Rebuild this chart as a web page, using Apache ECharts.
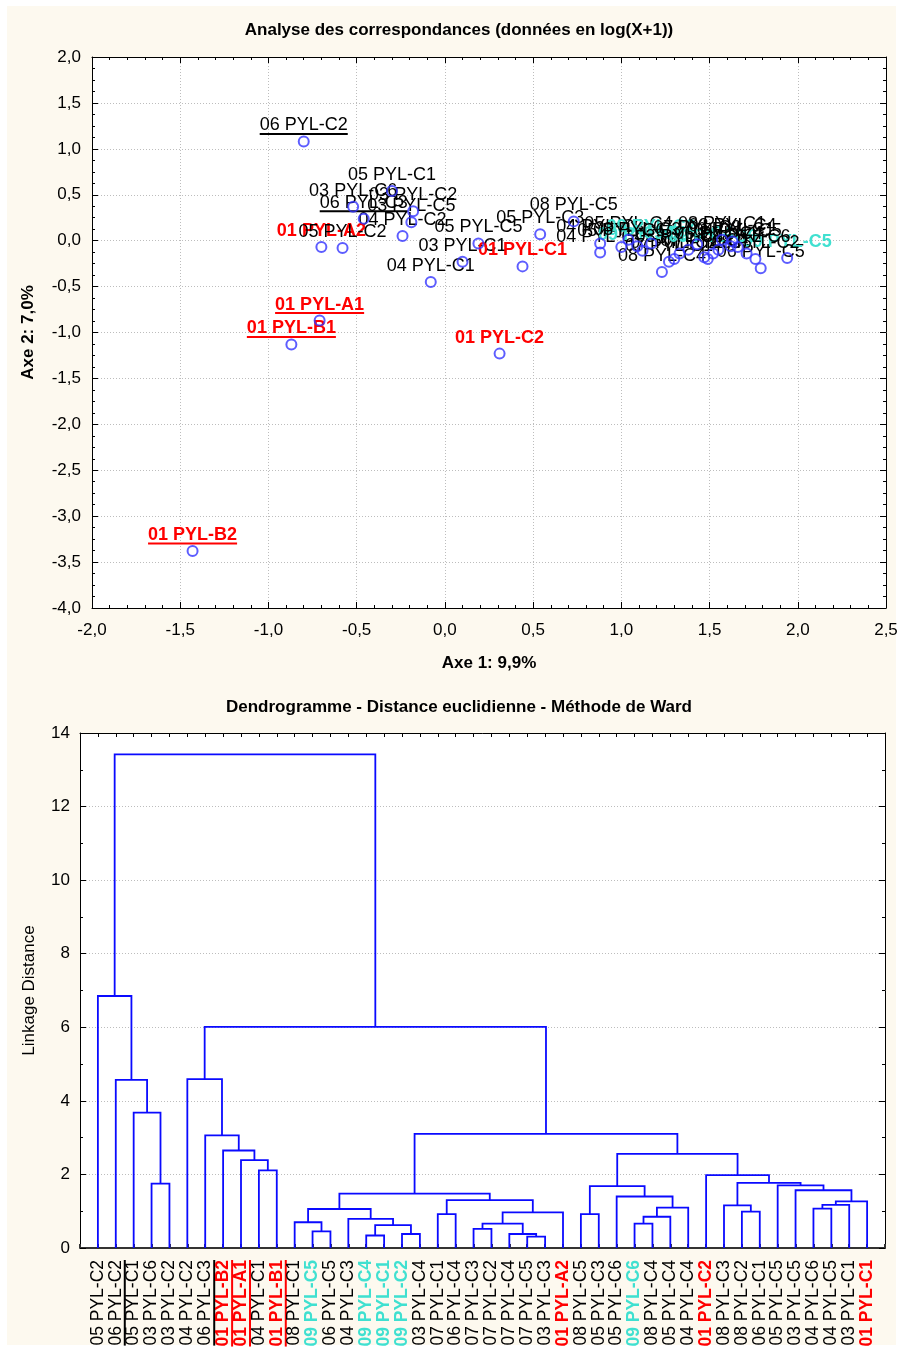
<!DOCTYPE html>
<html>
<head>
<meta charset="utf-8">
<script src="https://cdn.jsdelivr.net/npm/echarts@6/dist/echarts.min.js"></script>
<style>
  html, body { margin: 0; padding: 0; background: #fff; }
  #panel { position: absolute; left: 7px; top: 6px; width: 889px; height: 1339px; background: #fdf9ef; }
  #chart { position: absolute; left: 0; top: 0; width: 903px; height: 1351px; }
</style>
</head>
<body>
<div id="panel"></div>
<div id="chart"></div>
<script>
// ---- correspondence analysis (Axe 1 / Axe 2)
const caNames = [
  '06 PYL-C2', '05 PYL-C1', '03 PYL-C6', '03 PYL-C2', '06 PYL-C3', '03 PYL-C5',
  '04 PYL-C2', '01 PYL-A2', '05 PYL-C2', '04 PYL-C1', '03 PYL-C1', '05 PYL-C5',
  '01 PYL-C1', '01 PYL-A1', '01 PYL-B1', '01 PYL-C2', '01 PYL-B2', '05 PYL-C3',
  '08 PYL-C5', '08 PYL-C4', '06 PYL-C5', '09 PYL-C5',
  '04 PYL-C3', '04 PYL-C4', '05 PYL-C4', '09 PYL-C1', '09 PYL-C2', '07 PYL-C1',
  '07 PYL-C2', '09 PYL-C4', '07 PYL-C3', '07 PYL-C4', '07 PYL-C5', '09 PYL-C6',
  '06 PYL-C4', '08 PYL-C1', '03 PYL-C4', '06 PYL-C1', '04 PYL-C6', '08 PYL-C2',
  '08 PYL-C3', '03 PYL-C3', '04 PYL-C5', '05 PYL-C6'
];
const caX = [
  -0.80, -0.30, -0.52, -0.18, -0.46, -0.19,
  -0.24, -0.70, -0.58, -0.08, 0.10, 0.19,
  0.44, -0.71, -0.87, 0.31, -1.43, 0.54,
  0.73, 1.23, 1.79, 1.94,
  0.88, 0.88, 1.04, 1.12, 1.17, 1.27,
  1.30, 1.38, 1.43, 1.47, 1.49, 1.52,
  1.55, 1.57, 1.63, 1.62, 1.71, 1.76,
  1.09, 1.33, 1.66, 1.00
];
const caY = [
  1.08, 0.54, 0.37, 0.32, 0.24, 0.20,
  0.05, -0.07, -0.08, -0.45, -0.23, -0.03,
  -0.28, -0.87, -1.13, -1.23, -3.38, 0.07,
  0.21, -0.34, -0.30, -0.19,
  -0.03, -0.13, 0.01, -0.11, -0.03, -0.23,
  -0.20, -0.10, -0.04, -0.18, -0.20, -0.14,
  -0.10, 0.01, -0.01, -0.06, -0.14, -0.20,
  -0.06, -0.14, -0.07, -0.07
];
const underlined = ['06 PYL-C2', '06 PYL-C3', '01 PYL-A1', '01 PYL-B1', '01 PYL-B2'];

// ---- dendrogram (Ward, euclidean)
const leafNames = [
  '05 PYL-C2', '06 PYL-C2', '05 PYL-C1', '03 PYL-C6', '03 PYL-C2', '04 PYL-C2',
  '06 PYL-C3', '01 PYL-B2', '01 PYL-A1', '04 PYL-C1', '01 PYL-B1', '08 PYL-C1',
  '09 PYL-C5', '06 PYL-C5', '04 PYL-C3', '09 PYL-C4', '09 PYL-C1', '09 PYL-C2',
  '03 PYL-C4', '07 PYL-C1', '06 PYL-C4', '07 PYL-C3', '07 PYL-C2', '07 PYL-C4',
  '07 PYL-C5', '03 PYL-C3', '01 PYL-A2', '08 PYL-C5', '05 PYL-C3', '05 PYL-C6',
  '09 PYL-C6', '08 PYL-C4', '05 PYL-C4', '04 PYL-C4', '01 PYL-C2', '08 PYL-C3',
  '08 PYL-C2', '06 PYL-C1', '05 PYL-C5', '03 PYL-C5', '04 PYL-C6', '04 PYL-C5',
  '03 PYL-C1', '01 PYL-C1'
];
// [left, right, linkage distance]; numbers = leaf position (1..44), 'nK' = K-th merge
const merges = [
  [4, 5, 1.75], [3, 'n1', 3.68], [2, 'n2', 4.57], [1, 'n3', 6.85],
  [10, 11, 2.11], [9, 'n5', 2.39], [8, 'n6', 2.65], [7, 'n7', 3.06], [6, 'n8', 4.59],
  [13, 14, 0.45], [12, 'n10', 0.70], [16, 17, 0.34], [18, 19, 0.38],
  ['n12', 'n13', 0.62], [15, 'n14', 0.79], ['n11', 'n15', 1.06],
  [20, 21, 0.92], [22, 23, 0.52], [25, 26, 0.31], [24, 'n19', 0.38],
  ['n18', 'n20', 0.66], ['n21', 27, 0.97], ['n17', 'n22', 1.30], ['n16', 'n23', 1.48],
  [28, 29, 0.92], [31, 32, 0.66], ['n26', 33, 0.85], ['n27', 34, 1.10],
  [30, 'n28', 1.40], ['n25', 'n29', 1.68],
  [37, 38, 0.99], [36, 'n31', 1.16], [41, 42, 1.07], ['n33', 43, 1.17],
  ['n34', 44, 1.27], [40, 'n35', 1.57], [39, 'n36', 1.70], ['n32', 'n37', 1.77],
  [35, 'n38', 1.98], ['n30', 'n39', 2.56], ['n24', 'n40', 3.10],
  ['n9', 'n41', 6.01], ['n4', 'n42', 13.42]
];

const FONT = '"Liberation Sans", Arial, sans-serif';
const RED = '#ff0000';
const CYAN = '#40e0d0';

function labelStyle(name) {
  if (name.indexOf('01') === 0) return { color: RED, weight: 'bold' };
  if (name.indexOf('09') === 0) return { color: CYAN, weight: 'bold' };
  return { color: '#000', weight: 'normal' };
}

const measureCtx = document.createElement('canvas').getContext('2d');
function textWidth(text, size, weight) {
  measureCtx.font = weight + ' ' + size + 'px ' + FONT;
  return measureCtx.measureText(text).width;
}

// node position / height for the dendrogram links
const nodes = [];
function nodeOf(ref) {
  if (typeof ref === 'number') return { x: ref, h: 0 };
  return nodes[parseInt(ref.slice(1), 10) - 1];
}
const links = merges.map(m => {
  const a = nodeOf(m[0]), b = nodeOf(m[1]);
  nodes.push({ x: (a.x + b.x) / 2, h: m[2] });
  return [a.x, b.x, a.h, b.h, m[2]];
});

const fmt1 = v => v.toFixed(1).replace('.', ',');
const dotted = { show: true, lineStyle: { color: '#bdbdbd', type: [1, 2], width: 1 } };
const black = { color: '#000', width: 1 };

const chart = echarts.init(document.getElementById('chart'), null, { renderer: 'canvas' });

chart.setOption({
  backgroundColor: 'transparent',
  animation: false,
  textStyle: { fontFamily: FONT },
  graphic: [
    { type: 'text', x: 459, y: 30, style: { text: 'Analyse des correspondances (données en log(X+1))',
      fontFamily: FONT, fontSize: 17, fontWeight: 'bold', fill: '#000', align: 'center', verticalAlign: 'middle' } },
    { type: 'text', x: 459, y: 707, style: { text: 'Dendrogramme - Distance euclidienne - Méthode de Ward',
      fontFamily: FONT, fontSize: 17, fontWeight: 'bold', fill: '#000', align: 'center', verticalAlign: 'middle' } }
  ],
  grid: [
    { left: 92, top: 57, width: 794, height: 551, show: true, backgroundColor: '#fff', borderWidth: 0 },
    { left: 80, top: 733, width: 805, height: 515, show: true, backgroundColor: '#fff', borderWidth: 0 }
  ],
  xAxis: [
    { gridIndex: 0, type: 'value', min: -2, max: 2.5, interval: 0.5, position: 'bottom',
      name: 'Axe 1: 9,9%', nameLocation: 'middle', nameGap: 47,
      nameTextStyle: { fontSize: 17, fontWeight: 'bold', color: '#000' },
      axisLine: { onZero: false, lineStyle: black },
      axisTick: { inside: true, length: 6, lineStyle: black },
      minorTick: { show: true, splitNumber: 5, length: 3, lineStyle: black },
      axisLabel: { formatter: fmt1, fontSize: 17, color: '#000', margin: 14 },
      splitLine: dotted },
    { gridIndex: 0, type: 'value', min: -2, max: 2.5, interval: 0.5, position: 'top',
      axisLine: { onZero: false, lineStyle: black },
      axisTick: { inside: true, length: 6, lineStyle: black },
      minorTick: { show: true, splitNumber: 5, length: 3, lineStyle: black },
      axisLabel: { show: false }, splitLine: { show: false } },
    { gridIndex: 1, type: 'value', min: 0, max: 45, interval: 1, position: 'bottom',
      axisLine: { onZero: false, lineStyle: { color: '#333', width: 2 } },
      axisTick: { inside: true, length: 4, lineStyle: { color: '#333', width: 2 } },
      axisLabel: { show: false }, splitLine: { show: false } },
    { gridIndex: 1, type: 'value', min: 0, max: 45, interval: 1, position: 'top',
      axisLine: { onZero: false, lineStyle: black },
      axisTick: { inside: true, length: 4, lineStyle: black },
      axisLabel: { show: false }, splitLine: { show: false } }
  ],
  yAxis: [
    { gridIndex: 0, type: 'value', min: -4, max: 2, interval: 0.5, position: 'left',
      name: 'Axe 2: 7,0%', nameLocation: 'middle', nameGap: 55,
      nameTextStyle: { fontSize: 17, fontWeight: 'bold', color: '#000' },
      axisLine: { onZero: false, lineStyle: black },
      axisTick: { inside: true, length: 6, lineStyle: black },
      minorTick: { show: true, splitNumber: 4, length: 3, lineStyle: black },
      axisLabel: { formatter: fmt1, fontSize: 17, color: '#000', margin: 11 },
      splitLine: dotted },
    { gridIndex: 0, type: 'value', min: -4, max: 2, interval: 0.5, position: 'right',
      axisLine: { onZero: false, lineStyle: black },
      axisTick: { inside: true, length: 6, lineStyle: black },
      minorTick: { show: true, splitNumber: 4, length: 3, lineStyle: black },
      axisLabel: { show: false }, splitLine: { show: false } },
    { gridIndex: 1, type: 'value', min: 0, max: 14, interval: 2, position: 'left',
      name: 'Linkage Distance', nameLocation: 'middle', nameGap: 42,
      nameTextStyle: { fontSize: 17, color: '#000' },
      axisLine: { onZero: false, lineStyle: black },
      axisTick: { inside: true, length: 6, lineStyle: black },
      minorTick: { show: true, splitNumber: 2, length: 3, lineStyle: black },
      axisLabel: { fontSize: 17, color: '#000', margin: 10 },
      splitLine: dotted },
    { gridIndex: 1, type: 'value', min: 0, max: 14, interval: 2, position: 'right',
      axisLine: { onZero: false, lineStyle: black },
      axisTick: { inside: true, length: 6, lineStyle: black },
      minorTick: { show: true, splitNumber: 2, length: 3, lineStyle: black },
      axisLabel: { show: false }, splitLine: { show: false } }
  ],
  series: [
    {
      type: 'custom', name: 'labels', xAxisIndex: 0, yAxisIndex: 0, silent: true, z: 3,
      data: caX.map((x, i) => [x, caY[i]]),
      renderItem(params, api) {
        const name = caNames[params.dataIndex];
        const st = labelStyle(name);
        const p = api.coord([api.value(0), api.value(1)]);
        const children = [{
          type: 'text', x: p[0], y: p[1] - 16,
          style: { text: name, fontFamily: FONT, fontSize: 18, fontWeight: st.weight,
            fill: st.color, align: 'center', verticalAlign: 'middle' }
        }];
        if (underlined.indexOf(name) >= 0) {
          const w = textWidth(name, 18, st.weight);
          children.push({ type: 'line',
            shape: { x1: p[0] - w / 2, y1: p[1] - 7.5, x2: p[0] + w / 2, y2: p[1] - 7.5 },
            style: { stroke: st.color, lineWidth: 2 } });
        }
        return { type: 'group', children };
      }
    },
    {
      type: 'scatter', xAxisIndex: 0, yAxisIndex: 0, silent: true, z: 5,
      data: caX.map((x, i) => [x, caY[i]]),
      symbol: 'circle', symbolSize: 10,
      itemStyle: { color: 'rgba(255,255,255,0)', borderColor: '#3535ff', borderWidth: 2 }
    },
    {
      type: 'custom', name: 'dendrogram', xAxisIndex: 2, yAxisIndex: 2, silent: true, z: 4,
      data: links,
      renderItem(params, api) {
        const a = api.coord([api.value(0), api.value(2)]);
        const b = api.coord([api.value(0), api.value(4)]);
        const c = api.coord([api.value(1), api.value(4)]);
        const d = api.coord([api.value(1), api.value(3)]);
        return { type: 'polyline', shape: { points: [a, b, c, d] },
          style: { stroke: '#0a0aff', lineWidth: 1.8, fill: null } };
      }
    },
    {
      type: 'custom', name: 'leaves', xAxisIndex: 2, yAxisIndex: 2, silent: true, z: 4,
      data: leafNames.map((n, i) => [i + 1, 0]),
      renderItem(params, api) {
        const name = leafNames[params.dataIndex];
        const st = labelStyle(name);
        const p = api.coord([api.value(0), api.value(1)]);
        const size = 17.5;
        const children = [{
          type: 'text', x: p[0], y: p[1] + 12, rotation: Math.PI / 2,
          style: { text: name, fontFamily: FONT, fontSize: size, fontWeight: st.weight,
            fill: st.color, align: 'right', verticalAlign: 'middle' }
        }];
        if (underlined.indexOf(name) >= 0) {
          const w = textWidth(name, size, st.weight);
          children.push({ type: 'line',
            shape: { x1: p[0] + 9, y1: p[1] + 12, x2: p[0] + 9, y2: p[1] + 12 + w },
            style: { stroke: st.color, lineWidth: 2 } });
        }
        return { type: 'group', children };
      }
    }
  ]
});
</script>
</body>
</html>
